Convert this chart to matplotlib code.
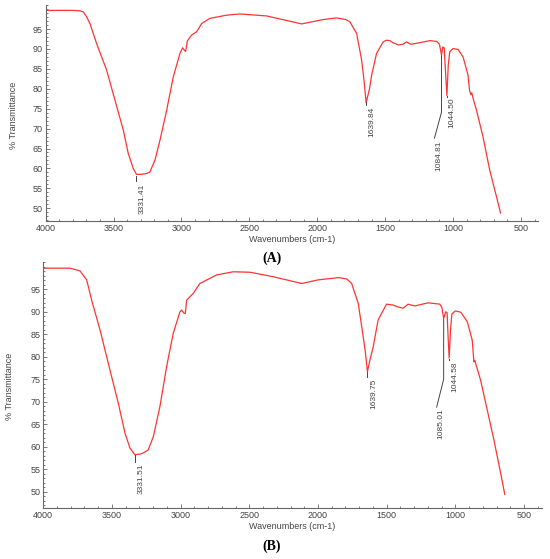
import numpy as np
import matplotlib.pyplot as plt
from matplotlib.ticker import MultipleLocator

plt.rcParams['font.family'] = ['Liberation Sans', 'DejaVu Sans']

# spectrum A
a_wn = [4000, 3800, 3750, 3723, 3700, 3674, 3625, 3551, 3490, 3428, 3392, 3355, 3331, 3300,
        3260, 3232, 3195, 3158, 3109, 3060, 3011, 2991, 2979, 2969, 2957, 2925, 2889, 2851,
        2790, 2667, 2569, 2373, 2115, 1956, 1857, 1790, 1759, 1710, 1673, 1655, 1640, 1615,
        1599, 1563, 1514, 1490, 1465, 1440, 1428, 1403, 1367, 1342, 1320, 1305, 1244, 1170,
        1120, 1100, 1085, 1075, 1065, 1055, 1045, 1035, 1024, 1000, 963, 926, 890, 878,
        868, 862, 850, 827, 779, 730, 680, 650]
a_t = [99.7, 99.7, 99.6, 99.3, 98.2, 96.4, 91.4, 84.7, 77.2, 69.6, 63.8, 60.0, 58.5, 58.5,
       58.7, 59.1, 62.1, 67.1, 74.6, 83.0, 88.9, 90.3, 89.7, 89.4, 92.0, 93.5, 94.3, 96.4,
       97.7, 98.5, 98.8, 98.3, 96.3, 97.4, 97.8, 97.4, 96.8, 93.9, 87.2, 82.0, 76.5, 80.0,
       83.5, 88.9, 91.8, 92.2, 92.1, 91.5, 91.4, 91.0, 91.2, 91.8, 91.3, 91.2, 91.6, 92.1,
       91.9, 91.2, 88.5, 90.5, 90.3, 84.0, 78.3, 86.0, 89.3, 90.1, 89.9, 88.0, 83.5, 79.5,
       78.5, 79.0, 77.3, 74.6, 67.9, 59.6, 52.9, 48.8]

# spectrum B
b_wn = [4000, 3806, 3733, 3684, 3648, 3587, 3515, 3454, 3405, 3369, 3333, 3290, 3272, 3236,
        3199, 3151, 3102, 3054, 3005, 2993, 2976, 2966, 2956, 2908, 2860, 2738, 2617, 2496,
        2326, 2119, 1999, 1850, 1790, 1755, 1707, 1671, 1655, 1640, 1620, 1598, 1562, 1501,
        1453, 1420, 1380, 1344, 1295, 1198, 1113, 1098, 1085, 1070, 1060, 1052, 1045, 1035,
        1025, 1000, 960, 913, 877, 865, 858, 850, 816, 768, 719, 670, 640]
b_t = [99.7, 99.7, 99.1, 97.1, 92.6, 86.0, 77.1, 69.7, 63.0, 59.7, 58.2, 58.4, 58.6, 59.3,
       62.2, 68.9, 77.8, 85.2, 90.0, 90.4, 89.7, 89.6, 92.6, 94.1, 96.3, 98.2, 98.9, 98.8,
       97.8, 96.3, 97.1, 97.6, 97.3, 96.3, 91.9, 84.5, 81.0, 76.7, 79.5, 82.2, 88.2, 91.7,
       91.5, 91.1, 90.8, 91.7, 91.3, 92.0, 91.7, 91.0, 88.5, 90.0, 89.8, 84.0, 79.7, 86.0,
       89.5, 90.2, 89.9, 87.8, 83.7, 78.9, 79.2, 78.3, 74.8, 68.2, 61.5, 54.1, 49.4]

# peak labels: (label, peak x, tick top, tick bottom, text x, text top)
a_peaks = [("3331.41", 3331, 58.2, 56.8, 3292, 56.3),
           ("1639.84", 1640, 76.6, 75.9, 1595, 75.6),
           ("1044.50", 1045, 78.2, 77.9, 1008, 77.9)]
b_peaks = [("3331.51", 3333, 58.1, 56.7, 3289, 56.3),
           ("1639.75", 1640, 76.6, 75.6, 1594, 75.2),
           ("1044.58", 1045, 79.6, 79.2, 1001, 78.9)]
# bent leader for the 1085 band: (label, x, y top, y knee, x end, y end, text x, text top)
a_bent = ("1084.81", 1085, 88.3, 74.1, 1137, 67.6, 1102, 67.1)
b_bent = ("1085.01", 1085, 88.3, 75.0, 1136, 68.8, 1105, 68.6)

red = '#ff3333'
grey = '#444444'

fig = plt.figure(figsize=(5.5, 5.59), dpi=100)


def panel(rect, wn, t, peaks, bent, ylo, xr, tag, tag_y, lab_y):
    ax = fig.add_axes(rect)
    ax.plot(wn, t, color=red, lw=0.9)
    ax.set_xlim(4000, xr)
    ax.set_ylim(ylo, 101)
    for s in ['top', 'right']:
        ax.spines[s].set_visible(False)
    for s in ['left', 'bottom']:
        ax.spines[s].set_color('#666666')
        ax.spines[s].set_linewidth(0.8)
    ax.set_xticks([4000, 3500, 3000, 2500, 2000, 1500, 1000, 500])
    ax.set_yticks(range(50, 100, 5))
    ax.xaxis.set_minor_locator(MultipleLocator(100))
    ax.yaxis.set_minor_locator(MultipleLocator(1))
    ax.tick_params(which='both', direction='in', colors='#666666', labelcolor=grey,
                   labelsize=6.5, width=0.6)
    ax.tick_params(which='major', length=3, pad=2)
    ax.tick_params(which='minor', length=1.5)
    for lab, px, y0, y1, tx, ty in peaks:
        ax.plot([px, px], [y0, y1], color=grey, lw=0.7)
        ax.text(tx, ty, lab, rotation=90, ha='center', va='top', fontsize=6, color=grey)
    lab, px, y0, yk, xe, ye, tx, ty = bent
    ax.plot([px, px, xe], [y0, yk, ye], color=grey, lw=0.7)
    ax.text(tx, ty, lab, rotation=90, ha='center', va='top', fontsize=6, color=grey)
    x0, y0b, w, h = rect
    fig.text(0.532, lab_y, 'Wavenumbers (cm-1)', ha='center', va='center',
             fontsize=6.5, color=grey)
    fig.text(0.0, 0, '', fontsize=1)
    fig.text(0.494, tag_y, tag, ha='center', va='center', fontsize=10,
             fontweight='bold', family='Liberation Serif')
    return ax


axa = panel([0.083, 0.6047, 0.895, 0.386], a_wn, a_t, a_peaks, a_bent, 46.8, 375,
            '(A)', 1 - 258.3 / 559, 1 - 239 / 559)
axb = panel([0.0787, 0.0907, 0.906, 0.44], b_wn, b_t, b_peaks, b_bent, 46.3, 372,
            '(B)', 1 - 546.7 / 559, 1 - 526.7 / 559)
fig.text(13.3 / 550, 1 - 115 / 559, '% Transmittance', rotation=90, ha='center',
         va='center', fontsize=6.5, color=grey)
fig.text(10 / 550, 1 - 386.7 / 559, '% Transmittance', rotation=90, ha='center',
         va='center', fontsize=6.5, color=grey)

fig.savefig('out.png', dpi=100)
